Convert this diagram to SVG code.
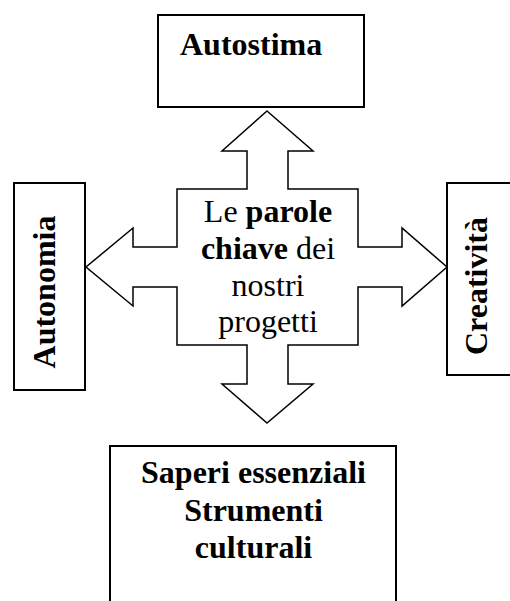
<svg xmlns="http://www.w3.org/2000/svg" width="510" height="601" viewBox="0 0 510 601">
<style>
.box{fill:#fff;stroke:#000;stroke-width:2}
.arrow{fill:#fff;stroke:#000;stroke-width:1.5;stroke-linejoin:miter}
text{font-family:"Liberation Serif","Times New Roman",serif;font-size:32px;fill:#000}
.b{font-weight:bold}
</style>
<rect width="510" height="601" fill="#fff"/>
<g id="connectors">
<polygon class="arrow" points="267,111 313,151 288,151 288,189 358,189 358,247 402,247 402,228 447,267 402,306 402,287 358,287 358,345 288,345 288,384 313,384 267,423 222,384 247,384 247,345 177,345 177,287 133,287 133,306 86,267 133,228 133,247 177,247 177,189 247,189 247,151 222,151"/>
</g>
<g id="autostima">
<rect class="box" x="158" y="15" width="206" height="92"/>
<text class="b" x="180" y="55">Autostima</text>
</g>
<g id="autonomia">
<rect class="box" x="14" y="183" width="71" height="207"/>
<text class="b" text-anchor="middle" transform="translate(55,292) rotate(-90)">Autonomia</text>
</g>
<g id="creativita">
<rect class="box" x="447" y="183" width="100" height="192"/>
<text class="b" text-anchor="middle" transform="translate(487,286) rotate(-90)">Creatività</text>
</g>
<g id="saperi">
<rect class="box" x="110" y="446" width="286" height="170"/>
<text class="b" text-anchor="middle" x="253.5" y="483">Saperi essenziali</text>
<text class="b" text-anchor="middle" x="253.5" y="521">Strumenti</text>
<text class="b" text-anchor="middle" x="253.5" y="558">culturali</text>
</g>
<g id="center">
<text text-anchor="middle" x="268" y="222">Le <tspan class="b">parole</tspan></text>
<text text-anchor="middle" x="268" y="259"><tspan class="b">chiave</tspan> dei</text>
<text text-anchor="middle" x="268" y="296">nostri</text>
<text text-anchor="middle" x="268" y="332">progetti</text>
</g>
</svg>
